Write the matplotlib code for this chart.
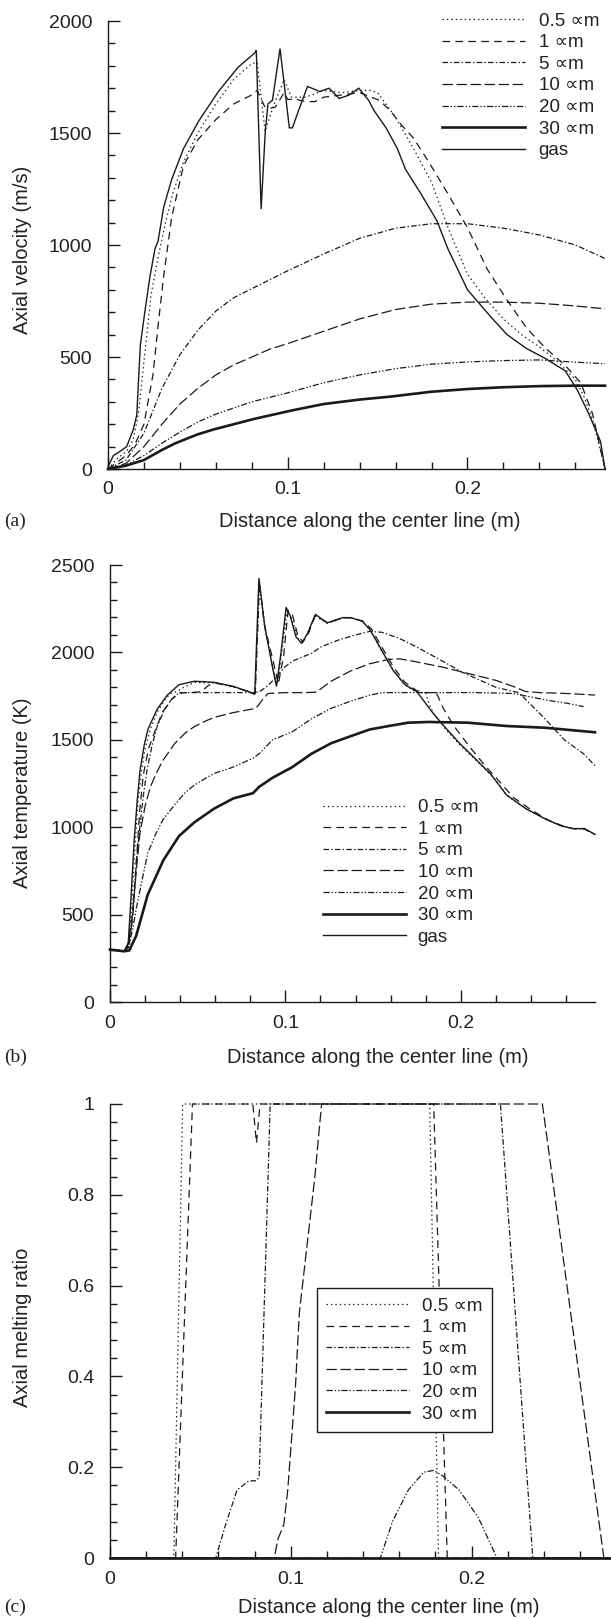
import matplotlib
matplotlib.use("Agg")
import matplotlib.pyplot as plt
from matplotlib.ticker import MultipleLocator, FuncFormatter
from matplotlib.lines import Line2D

plt.rcParams['font.family'] = ['Liberation Sans', 'DejaVu Sans']
plt.rcParams['lines.scale_dashes'] = False

# ---------------- data ----------------
labels = ["0.5 \u221dm", "1 \u221dm", "5 \u221dm", "10 \u221dm", "20 \u221dm", "30 \u221dm", "gas"]
x_ticklabels = ["0", "0.1", "0.2"]

# (a) axial velocity (m/s)
vel_gas_x = [0, 0.003, 0.006, 0.0104, 0.014, 0.016, 0.018, 0.0206, 0.0234, 0.0262, 0.0278, 0.031, 0.0354, 0.042,
             0.0505, 0.0614, 0.0722, 0.082, 0.0825, 0.0852, 0.0875, 0.089, 0.0915, 0.0957, 0.1009, 0.1026, 0.106,
             0.111, 0.1178, 0.123, 0.1286, 0.134, 0.1395, 0.145, 0.148, 0.1547, 0.161, 0.1655, 0.174, 0.183, 0.189,
             0.2, 0.2132, 0.222, 0.2328, 0.2436, 0.2544, 0.261, 0.2675, 0.274, 0.2765]
vel_gas_v = [10, 60, 75, 100, 175, 240, 554, 708, 862, 985, 1015, 1170, 1292, 1430,
             1554, 1685, 1792, 1860, 1870, 1160, 1508, 1630, 1646, 1877, 1523, 1523, 1600,
             1708, 1685, 1700, 1654, 1669, 1700, 1646, 1600, 1523, 1430, 1338, 1230, 1108, 985,
             800, 677, 600, 538, 492, 438, 354, 246, 123, 0]
vel_p05_x = [0, 0.005, 0.0104, 0.014, 0.017, 0.02, 0.024, 0.028, 0.032, 0.036, 0.042, 0.05, 0.06, 0.07, 0.08,
             0.083, 0.0874, 0.092, 0.098, 0.102, 0.11, 0.12, 0.13, 0.14, 0.146, 0.15, 0.16, 0.17, 0.18, 0.19, 0.2,
             0.21, 0.22, 0.23, 0.24, 0.25, 0.26, 0.265, 0.27, 0.2765]
vel_p05_v = [0, 45, 80, 130, 250, 480, 780, 950, 1100, 1230, 1370, 1500, 1630, 1740, 1810,
             1815, 1508, 1620, 1738, 1660, 1660, 1690, 1680, 1690, 1690, 1680, 1570, 1430, 1280, 1060, 870,
             760, 670, 600, 545, 480, 400, 320, 210, 0]
vel_p1_x = [0, 0.005, 0.01, 0.015, 0.02, 0.025, 0.028, 0.031, 0.0354, 0.042, 0.05, 0.06, 0.07, 0.08, 0.083,
            0.087, 0.09, 0.093, 0.098, 0.1, 0.105, 0.11, 0.115, 0.12, 0.13, 0.14, 0.151, 0.157, 0.163, 0.17,
            0.1785, 0.189, 0.2, 0.211, 0.222, 0.2328, 0.2436, 0.2544, 0.263, 0.2696, 0.2765]
vel_p1_v = [0, 30, 60, 110, 200, 420, 650, 862, 1123, 1354, 1470, 1560, 1630, 1670, 1690,
            1620, 1610, 1615, 1680, 1650, 1650, 1640, 1640, 1660, 1670, 1680, 1646, 1600, 1538, 1477,
            1370, 1230, 1077, 892, 754, 630, 538, 462, 385, 246, 0]
vel_p5_x = [0, 0.01, 0.02, 0.03, 0.04, 0.05, 0.06, 0.07, 0.08, 0.09, 0.1, 0.12, 0.14, 0.16, 0.18, 0.2, 0.22,
            0.24, 0.26, 0.2765]
vel_p5_v = [0, 40, 160, 360, 510, 620, 705, 765, 805, 845, 885, 960, 1030, 1075, 1095, 1095, 1075,
            1045, 1000, 940]
vel_p10_x = [0, 0.01, 0.02, 0.03, 0.04, 0.05, 0.06, 0.07, 0.08, 0.09, 0.1, 0.12, 0.14, 0.16, 0.18, 0.2, 0.22,
             0.24, 0.26, 0.2765]
vel_p10_v = [0, 25, 100, 200, 290, 360, 420, 465, 500, 535, 560, 615, 670, 712, 736, 745, 745,
             740, 728, 715]
vel_p20_x = [0, 0.01, 0.02, 0.03, 0.04, 0.05, 0.06, 0.08, 0.1, 0.12, 0.14, 0.16, 0.18, 0.2, 0.22, 0.24, 0.26,
             0.2765]
vel_p20_v = [0, 18, 60, 115, 165, 210, 245, 300, 340, 385, 420, 448, 468, 478, 484, 487, 477, 470]
vel_p30_x = [0, 0.01, 0.02, 0.03, 0.0375, 0.05, 0.059, 0.07, 0.081, 0.1026, 0.12, 0.14, 0.157, 0.18, 0.2,
             0.22, 0.24, 0.26, 0.2765]
vel_p30_v = [0, 15, 40, 85, 115, 155, 177, 200, 223, 262, 290, 310, 323, 345, 357, 365, 370, 372, 372]

# (b) axial temperature (K)
tmp_gas_x = [0, 0.004, 0.0082, 0.0104, 0.012, 0.0138, 0.0155, 0.0171, 0.0195, 0.0216, 0.0238, 0.027, 0.0327,
             0.0393, 0.048, 0.0593, 0.0704, 0.079, 0.0825, 0.0849, 0.0882, 0.0927, 0.0949, 0.0975, 0.1004,
             0.1027, 0.106, 0.1093, 0.1127, 0.1171, 0.1238, 0.1327, 0.1371, 0.1438, 0.1482, 0.1549, 0.1616,
             0.1682, 0.1749, 0.1793, 0.1838, 0.1904, 0.1993, 0.2082, 0.2171, 0.226, 0.2371, 0.2482, 0.2571,
             0.2638, 0.2704, 0.2765]
tmp_gas_t = [300, 295, 292, 339, 600, 929, 1150, 1323, 1470, 1559, 1608, 1677, 1756,
             1815, 1835, 1829, 1805, 1776, 1760, 2425, 2150, 1913, 1805, 2000, 2258,
             2209, 2090, 2051, 2110, 2218, 2169, 2199, 2199, 2179, 2130, 2012, 1894,
             1815, 1776, 1717, 1657, 1579, 1480, 1392, 1303, 1185, 1106, 1047, 1008,
             992, 992, 959]
tmp_p05_x = [0, 0.008, 0.0104, 0.0125, 0.014, 0.016, 0.018, 0.02, 0.023, 0.027, 0.032, 0.0355, 0.038, 0.042,
             0.048, 0.0593, 0.0704, 0.079, 0.0828, 0.0852, 0.0885, 0.093, 0.0955, 0.0985, 0.101, 0.104, 0.107,
             0.11, 0.113, 0.117, 0.124, 0.133, 0.137, 0.144, 0.1485, 0.155, 0.162, 0.168, 0.175, 0.18, 0.182,
             0.1845, 0.191, 0.2, 0.209, 0.218, 0.227, 0.238, 0.249, 0.258, 0.264, 0.2704, 0.2765]
tmp_p05_t = [300, 292, 330, 560, 850, 1150, 1320, 1450, 1560, 1660, 1740, 1770, 1775, 1800,
             1828, 1825, 1803, 1775, 1765, 2380, 2130, 1900, 1820, 2050, 2240, 2190, 2080,
             2060, 2120, 2210, 2165, 2198, 2198, 2178, 2125, 2005, 1890, 1815, 1770, 1770, 1700,
             1650, 1565, 1465, 1380, 1290, 1175, 1100, 1042, 1005, 992, 990, 957]
tmp_p1_x = [0, 0.008, 0.0104, 0.013, 0.015, 0.017, 0.019, 0.022, 0.026, 0.03, 0.035, 0.04, 0.046, 0.052,
            0.056, 0.06, 0.07, 0.079, 0.0828, 0.0852, 0.088, 0.093, 0.096, 0.099, 0.1015, 0.104, 0.107, 0.11,
            0.113, 0.117, 0.124, 0.133, 0.137, 0.144, 0.149, 0.155, 0.162, 0.168, 0.175, 0.18, 0.186, 0.19,
            0.196, 0.205, 0.214, 0.223, 0.23, 0.24, 0.25, 0.26, 0.265, 0.2704, 0.2765]
tmp_p1_t = [300, 292, 320, 480, 800, 1100, 1300, 1450, 1560, 1660, 1730, 1770, 1770, 1775,
            1810, 1825, 1805, 1775, 1765, 2400, 2160, 1950, 1820, 1980, 2240, 2215, 2100, 2060,
            2105, 2210, 2170, 2198, 2198, 2180, 2135, 2030, 1910, 1830, 1780, 1770, 1770, 1680,
            1580, 1460, 1350, 1250, 1170, 1100, 1040, 1000, 990, 990, 957]
tmp_p5_x = [0, 0.008, 0.011, 0.013, 0.015, 0.017, 0.019, 0.021, 0.024, 0.027, 0.031, 0.035, 0.038, 0.042,
            0.06, 0.083, 0.086, 0.09, 0.095, 0.1, 0.105, 0.11, 0.115, 0.12, 0.13, 0.14, 0.148, 0.155, 0.165,
            0.175, 0.185, 0.195, 0.2, 0.21, 0.22, 0.233, 0.24, 0.248, 0.259, 0.27, 0.2765]
tmp_p5_t = [300, 292, 320, 520, 800, 1000, 1180, 1320, 1470, 1580, 1670, 1730, 1760, 1770,
            1770, 1770, 1780, 1810, 1860, 1920, 1955, 1975, 1995, 2030, 2070, 2100, 2120, 2115, 2080,
            2030, 1975, 1920, 1890, 1845, 1800, 1770, 1700, 1620, 1500, 1420, 1352]
tmp_p10_x = [0, 0.008, 0.0104, 0.013, 0.015, 0.017, 0.02, 0.023, 0.026, 0.03, 0.037, 0.043, 0.048, 0.055,
             0.06, 0.07, 0.0816, 0.084, 0.087, 0.09, 0.1, 0.11, 0.117, 0.12, 0.126, 0.137, 0.148, 0.159, 0.165,
             0.17, 0.18, 0.19, 0.2, 0.21, 0.22, 0.23, 0.237, 0.245, 0.26, 0.2765]
tmp_p10_t = [300, 292, 330, 520, 750, 960, 1120, 1230, 1300, 1380, 1480, 1540, 1575, 1610,
             1630, 1655, 1677, 1690, 1730, 1765, 1770, 1770, 1772, 1790, 1835, 1893, 1935, 1960, 1963,
             1955, 1935, 1915, 1890, 1865, 1840, 1805, 1776, 1770, 1765, 1756]
tmp_p20_x = [0, 0.008, 0.0104, 0.013, 0.015, 0.019, 0.0215, 0.026, 0.03, 0.037, 0.043, 0.048, 0.055, 0.06,
             0.07, 0.0816, 0.085, 0.0927, 0.1038, 0.1149, 0.126, 0.137, 0.148, 0.155, 0.17, 0.19, 0.21, 0.23,
             0.24, 0.25, 0.26, 0.27]
tmp_p20_t = [300, 292, 310, 420, 535, 732, 850, 960, 1040, 1130, 1200, 1240, 1283, 1310,
             1343, 1395, 1420, 1500, 1545, 1620, 1680, 1720, 1755, 1770, 1770, 1770, 1770, 1765,
             1745, 1725, 1710, 1690]
tmp_p30_x = [0, 0.008, 0.011, 0.0149, 0.0215, 0.0304, 0.0393, 0.048, 0.0593, 0.0704, 0.0816, 0.0849, 0.0927,
             0.1038, 0.115, 0.126, 0.137, 0.148, 0.159, 0.17, 0.1816, 0.2038, 0.226, 0.248, 0.2765]
tmp_p30_t = [300, 290, 295, 378, 614, 811, 949, 1027, 1106, 1165, 1195, 1230, 1283,
             1343, 1421, 1480, 1520, 1559, 1579, 1598, 1602, 1598, 1579, 1569, 1543]

# (c) axial melting ratio
mr_p05_x = [0, 0.0353, 0.0402, 0.1768, 0.1817, 0.2765]
mr_p05_r = [0, 0, 1, 1, 0, 0]
mr_p1_x = [0, 0.0363, 0.0456, 0.079, 0.081, 0.083, 0.179, 0.1865, 0.2765]
mr_p1_r = [0, 0, 1, 1, 0.914, 1, 1, 0, 0]
mr_p5_x = [0, 0.0585, 0.0639, 0.0703, 0.0768, 0.081, 0.0825, 0.0886, 0.2159, 0.2338, 0.2765]
mr_p5_r = [0, 0, 0.073, 0.15, 0.17, 0.17, 0.18, 1, 1, 0, 0]
mr_p10_x = [0, 0.0908, 0.0929, 0.0961, 0.0983, 0.1026, 0.1047, 0.109, 0.1133, 0.117, 0.2391, 0.2731, 0.2765]
mr_p10_r = [0, 0, 0.042, 0.073, 0.15, 0.38, 0.54, 0.69, 0.84, 1, 1, 0, 0]
mr_p20_x = [0, 0.1495, 0.1563, 0.165, 0.1735, 0.179, 0.184, 0.193, 0.2037, 0.214, 0.2765]
mr_p20_r = [0, 0, 0.081, 0.15, 0.189, 0.193, 0.181, 0.15, 0.089, 0, 0]
mr_p30_x = [0, 0.2765]
mr_p30_r = [0, 0]

# ---------------- styles ----------------
INK = '#1a1a1a'
TXT = '#222222'
styles = [
    dict(linestyle=(0, (1.0, 2.2)), linewidth=0.9),
    dict(linestyle=(0, (5.5, 3.8)), linewidth=0.9),
    dict(linestyle=(0, (4.0, 1.6, 1.0, 1.6)), linewidth=0.9),
    dict(linestyle=(0, (7.5, 2.6)), linewidth=0.9),
    dict(linestyle=(0, (4.5, 1.4, 1.0, 1.4, 1.0, 1.4)), linewidth=0.9),
    dict(linestyle='-', linewidth=1.9),
    dict(linestyle='-', linewidth=1.0),
]

W, H = 611, 1619
fig = plt.figure(figsize=(W / 100, H / 100), dpi=100)

TICK_FS = 14
LAB_FS = 14.5
LEG_FS = 13.5


def add_ax(l, r, t, b):
    return fig.add_axes([l / W, 1 - b / H, (r - l) / W, (b - t) / H])


def style_axis(ax, ymax, ymajor, yminor, yfmt):
    ax.set_xlim(0, 0.2765)
    ax.set_ylim(0, ymax)
    for s in ('top', 'right'):
        ax.spines[s].set_visible(False)
    for s in ('left', 'bottom'):
        ax.spines[s].set_linewidth(1.0)
        ax.spines[s].set_color(INK)
    ax.xaxis.set_major_locator(MultipleLocator(0.1))
    ax.xaxis.set_minor_locator(MultipleLocator(0.02))
    ax.xaxis.set_major_formatter(FuncFormatter(
        lambda v, p: x_ticklabels[int(round(v * 10))] if 0 <= round(v * 10) < 3 else ''))
    ax.yaxis.set_major_locator(MultipleLocator(ymajor))
    ax.yaxis.set_minor_locator(MultipleLocator(yminor))
    ax.yaxis.set_major_formatter(FuncFormatter(yfmt))
    ax.tick_params(which='both', direction='in', colors=INK, labelcolor=TXT, width=1.0, labelsize=TICK_FS)
    ax.tick_params(which='major', length=8.5)
    ax.tick_params(which='minor', length=5)
    ax.tick_params(axis='x', pad=9)
    ax.tick_params(axis='y', pad=11.5)
    ax.set_facecolor('none')


def plot_series(ax, xs, ys, n):
    for i, (x, y) in enumerate(zip(xs, ys)):
        ax.plot(x, y, color=INK, clip_on=False, solid_joinstyle='miter', **styles[i])
    return [Line2D([], [], color=INK, **styles[i]) for i in range(n)]


# (a)
axa = add_ax(108, 605, 21, 469)
style_axis(axa, 2000, 500, 100, lambda v, p: f'{int(v)}')
ha = plot_series(axa,
                 [vel_p05_x, vel_p1_x, vel_p5_x, vel_p10_x, vel_p20_x, vel_p30_x, vel_gas_x],
                 [vel_p05_v, vel_p1_v, vel_p5_v, vel_p10_v, vel_p20_v, vel_p30_v, vel_gas_v], 7)
axa.legend(ha, labels, loc='upper left', bbox_to_anchor=(442 / W, 1 - 12.5 / H), bbox_transform=fig.transFigure,
           frameon=False, borderpad=0, borderaxespad=0, handlelength=4.4, handletextpad=0.75,
           labelspacing=0.24, fontsize=LEG_FS, labelcolor=TXT)

# (b)
axb = add_ax(110, 595, 565, 1002)
style_axis(axb, 2500, 500, 100, lambda v, p: f'{int(v)}')
hb = plot_series(axb,
                 [tmp_p05_x, tmp_p1_x, tmp_p5_x, tmp_p10_x, tmp_p20_x, tmp_p30_x, tmp_gas_x],
                 [tmp_p05_t, tmp_p1_t, tmp_p5_t, tmp_p10_t, tmp_p20_t, tmp_p30_t, tmp_gas_t], 7)
axb.legend(hb, labels, loc='upper left', bbox_to_anchor=(323 / W, 1 - 799 / H), bbox_transform=fig.transFigure,
           frameon=False, borderpad=0, borderaxespad=0, handlelength=4.4, handletextpad=0.65,
           labelspacing=0.24, fontsize=LEG_FS, labelcolor=TXT)

# (c)
axc = add_ax(110, 610, 1104, 1558)
style_axis(axc, 1, 0.2, 0.04,
           lambda v, p: '0' if abs(v) < 1e-9 else ('1' if abs(v - 1) < 1e-9 else f'{v:.1f}'))
hc = plot_series(axc,
                 [mr_p05_x, mr_p1_x, mr_p5_x, mr_p10_x, mr_p20_x, mr_p30_x],
                 [mr_p05_r, mr_p1_r, mr_p5_r, mr_p10_r, mr_p20_r, mr_p30_r], 6)
legc = axc.legend(hc, labels[:6], loc='upper left', bbox_to_anchor=(317 / W, 1 - 1288 / H),
                  bbox_transform=fig.transFigure, frameon=True, fancybox=False, borderpad=0.5,
                  borderaxespad=0, handlelength=4.4, handletextpad=0.7, labelspacing=0.24, fontsize=LEG_FS,
                  labelcolor=TXT)
legc.get_frame().set_edgecolor(INK)
legc.get_frame().set_linewidth(1.0)
legc.get_frame().set_facecolor('white')
legc.get_frame().set_alpha(1)

# axis titles
for (xc, yc, txt) in [(370, 521, 'Distance along the center line (m)'),
                      (378, 1057, 'Distance along the center line (m)'),
                      (389, 1607, 'Distance along the center line (m)')]:
    fig.text(xc / W, 1 - yc / H, txt, ha='center', va='center', fontsize=LAB_FS, color=TXT)
for (xc, yc, txt) in [(23, 250, 'Axial velocity (m/s)'),
                      (23, 793, 'Axial temperature (K)'),
                      (23, 1327, 'Axial melting ratio')]:
    fig.text(xc / W, 1 - yc / H, txt, ha='center', va='center', rotation=90, fontsize=LAB_FS, color=TXT)
for (yc, txt) in [(521, '(a)'), (1057, '(b)'), (1607, '(c)')]:
    fig.text(4 / W, 1 - yc / H, txt, ha='left', va='center', fontsize=14, color=TXT,
             family=['Liberation Serif', 'DejaVu Serif'])

fig.savefig('out.png', dpi=100, facecolor='white')
